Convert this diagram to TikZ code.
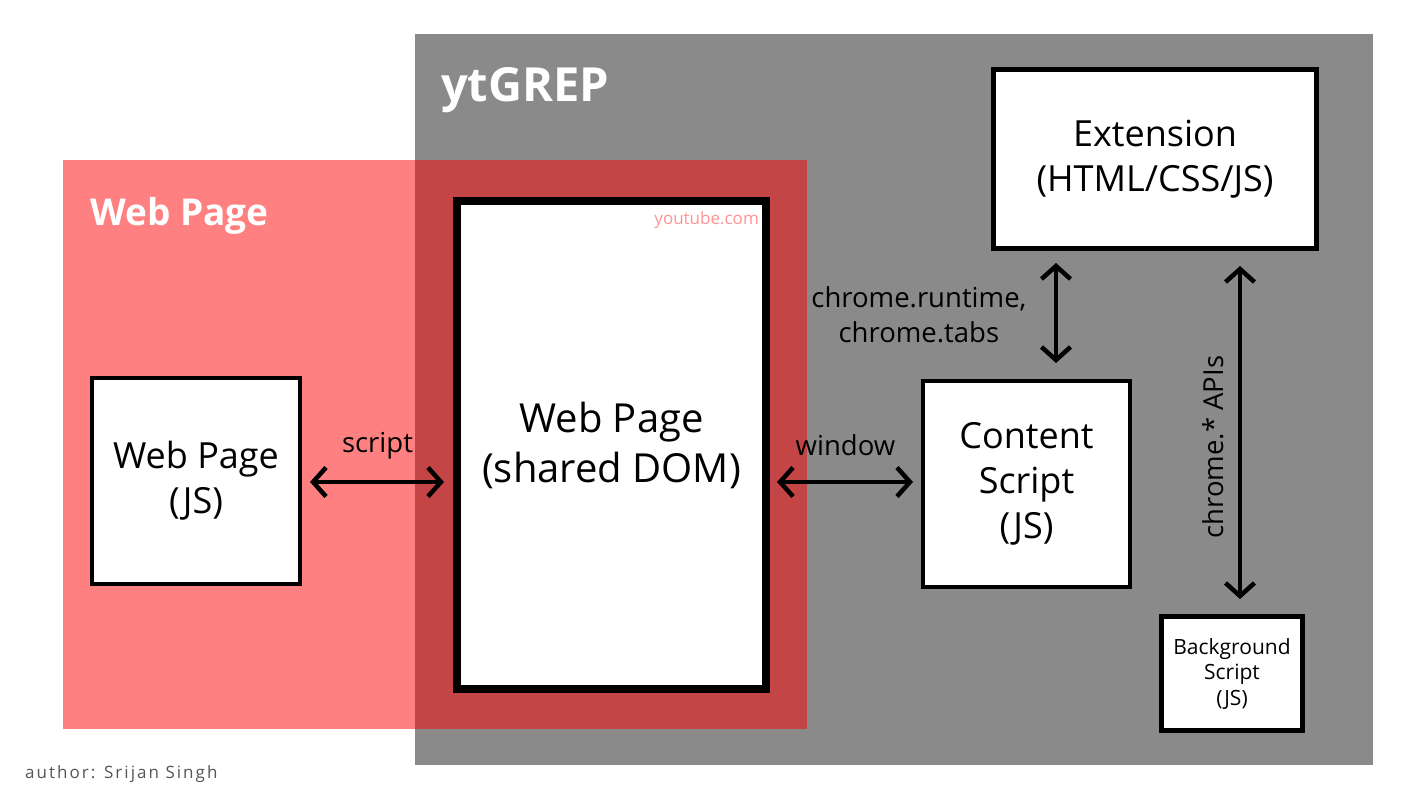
\documentclass[tikz,border=0pt]{standalone}
\usepackage{fontspec}
\setmainfont{Open Sans}
\usetikzlibrary{positioning}
\usetikzlibrary{arrows.meta}

\definecolor{ytgray}{HTML}{8A8A8A}
\definecolor{pagered}{HTML}{FF8080}
\definecolor{overlapred}{HTML}{C44545}
\definecolor{linkpink}{HTML}{FF9494}
\definecolor{authorgray}{HTML}{555555}

\tikzset{
  box/.style={draw=black, fill=white, line width=4pt, align=center,
              inner sep=0pt, font=\fontsize{36}{45}\selectfont},
  link/.style={<->, line width=4.5pt, >={Straight Barb[length=13pt,width=29pt]}},
  tag/.style={font=\fontsize{27.5}{35}\selectfont, align=center},
  title/.style={text=white, font=\fontsize{47}{50}\selectfont\bfseries, anchor=base west, inner sep=0pt}
}

\begin{document}
\begin{tikzpicture}[x=1pt,y=-1pt]
          \useasboundingbox (0,0) rectangle (1422,800);
          \fill[white] (0,0) rectangle (1422,800);

          % regions
          \fill[pagered] (63,160) rectangle (807,729);
          \fill[ytgray] (415,34) rectangle (1373,765);
          \fill[overlapred] (415,160) rectangle (807,729);
          \node[title] (yt) at (441,102) {ytGREP};
          \node[title, font=\fontsize{37}{40}\selectfont\bfseries] (wp) at (90,225) {Web Page};

          % boxes
          \node (js)  [box, minimum width=208pt, minimum height=206pt] at (196,481) {Web Page\\(JS)};
          \node (dom) [box, line width=8pt, minimum width=309pt, minimum height=488pt,
                       font=\fontsize{40}{50}\selectfont] at (611.5,445) {Web Page\\(shared DOM)};
          \node (cs)  [box, minimum width=207pt, minimum height=206pt] at (1026.5,484) {Content\\Script\\(JS)};
          \node (ext) [box, line width=5pt, minimum width=323pt, minimum height=179pt] at (1155,159) {Extension\\(HTML/CSS/JS)};
          \node (bg)  [box, line width=5pt, minimum width=141pt, minimum height=114pt,
                       font=\fontsize{21}{25.5}\selectfont] at (1232,673.5) {Background\\Script\\(JS)};
          \node (yt-url) [anchor=base east, inner sep=0pt, text=linkpink, font=\fontsize{17}{20}\selectfont]
                at ([xshift=-11pt,yshift=-27pt]dom.north east) {youtube.com};

          \coordinate (mid) at (0,482);
          \coordinate (rt)  at (1056,0);
          \coordinate (api) at (1240,0);

          % connectors
          \draw[link, shorten <=8pt, shorten >=9pt] (js.east |- mid) -- (dom.west |- mid)
            node[tag, midway, anchor=base, yshift=30pt] {script};
          \draw[link, shorten <=7pt, shorten >=8pt] (dom.east |- mid) -- (cs.west |- mid)
            node[tag, midway, anchor=base, yshift=27pt] {window};
          \draw[link, shorten <=12pt, shorten >=16pt] (ext.south -| rt) -- (cs.north -| rt)
            node[tag, midway, left=24pt] {chrome.runtime,\\chrome.tabs};
          \draw[link, shorten <=15pt, shorten >=15pt] (ext.south -| api) -- (bg.north -| api)
            node[tag, pos=0.54, rotate=90, anchor=south, inner sep=14pt] {chrome.* APIs};

          \node[anchor=base west, inner sep=0pt, text=authorgray, font=\fontsize{17}{20}\selectfont\addfontfeatures{LetterSpace=12}]
                (author) at (25,778) {author: Srijan Singh};
\end{tikzpicture}
\end{document}
